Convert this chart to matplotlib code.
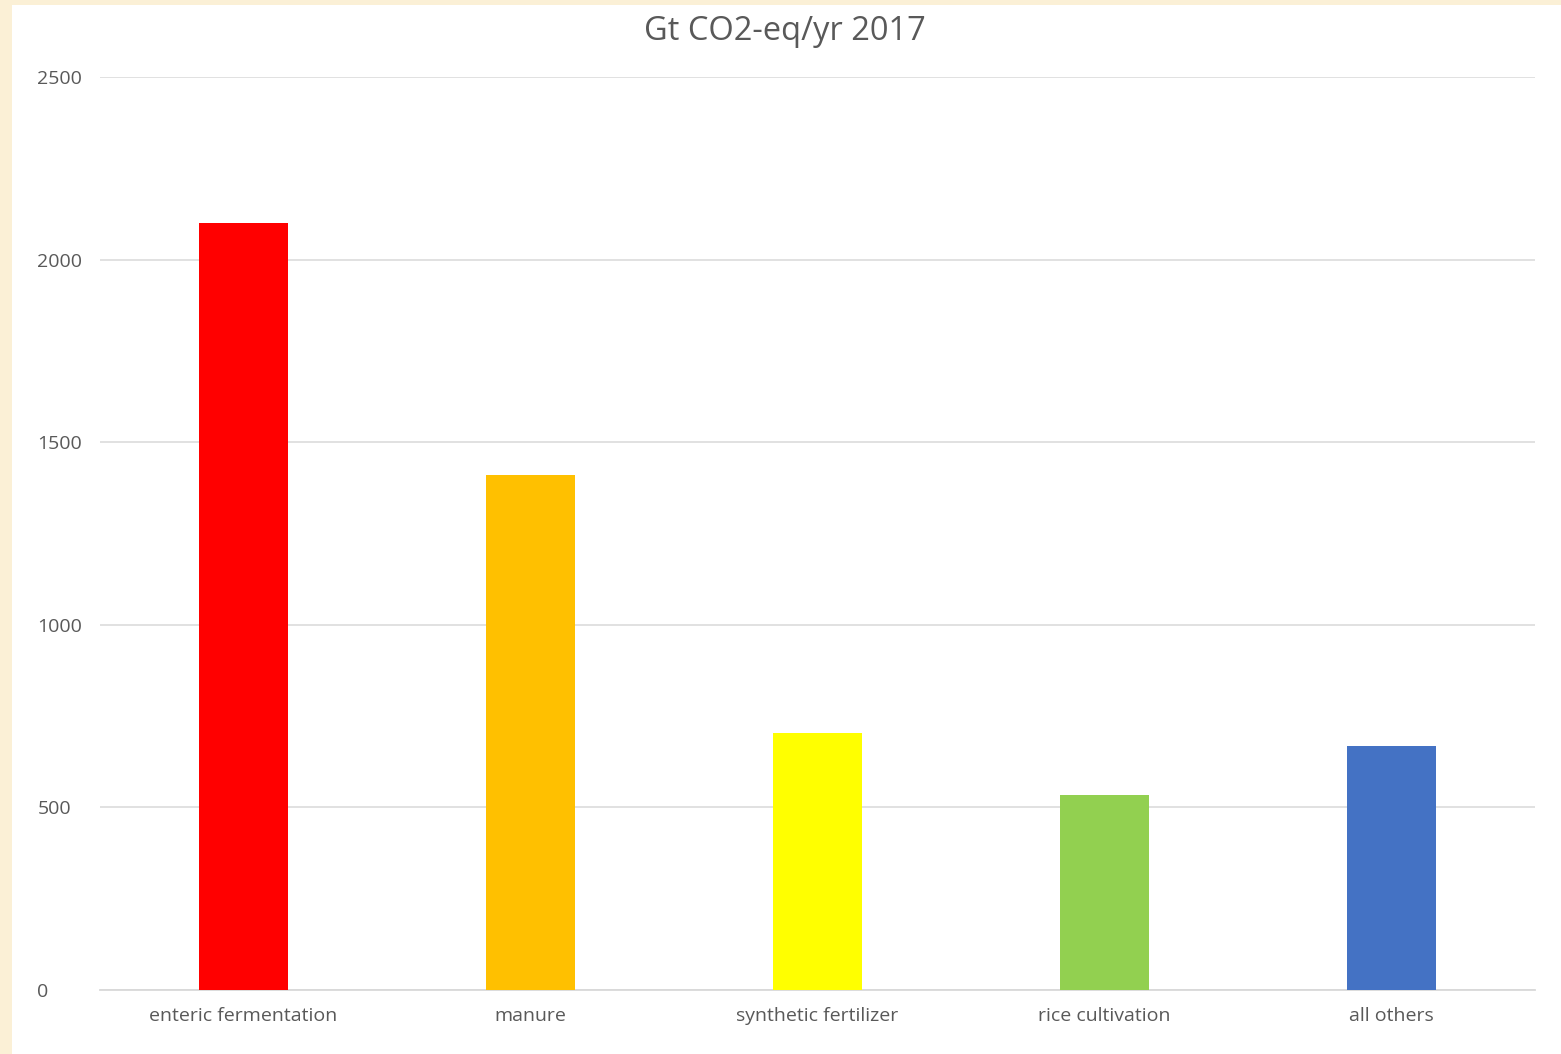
import matplotlib
matplotlib.use('Agg')
import matplotlib.pyplot as plt
from matplotlib.patches import Rectangle

# data
categories = ['enteric fermentation', 'manure', 'synthetic fertilizer', 'rice cultivation', 'all others']
values = [2100, 1410, 705, 534, 668]
colors = ['#ff0000', '#ffc000', '#ffff00', '#92d050', '#4472c4']
yticks = [0, 500, 1000, 1500, 2000, 2500]

plt.rcParams['font.family'] = ['Open Sans', 'DejaVu Sans']

W, H = 1561, 1054
fig = plt.figure(figsize=(W/100, H/100), dpi=100)
fig.patch.set_facecolor('#fbf0d6')
# white chart panel inside the cream frame
fig.patches.append(Rectangle((12/W, 0), 1 - 12/W, 1 - 5/H, transform=fig.transFigure,
                             facecolor='white', edgecolor='none', zorder=-5))

ax = fig.add_axes([100/W, 1 - 990/H, 1435/W, (990 - 77)/H])
ax.set_zorder(2)
ax.set_facecolor('none')
x = range(len(categories))
ax.bar(x, values, width=0.31, color=colors, zorder=3)

ax.set_xlim(-0.5, len(categories) - 0.5)
ax.set_ylim(0, 2500)
ax.set_yticks(yticks)
ax.set_yticklabels([str(t) for t in yticks])
ax.set_xticks(list(x))
ax.set_xticklabels(categories)
ax.grid(axis='y', color='#dcdcdc', linewidth=1.2, zorder=0)
for s in ['top', 'right', 'left']:
    ax.spines[s].set_visible(False)
ax.spines['bottom'].set_color('#d9d9d9')
ax.spines['bottom'].set_linewidth(1.3)
ax.tick_params(axis='both', length=0, labelsize=14, colors='#595959')
ax.tick_params(axis='y', pad=45)
ax.tick_params(axis='x', pad=12)
for lbl in ax.get_yticklabels():
    lbl.set_horizontalalignment('left')

fig.text(785/W, 1 - 31/H, 'Gt CO2-eq/yr 2017', ha='center', va='center',
         fontsize=23.5, color='#595959', zorder=3)

fig.savefig('out.png', dpi=100, facecolor=fig.get_facecolor())
